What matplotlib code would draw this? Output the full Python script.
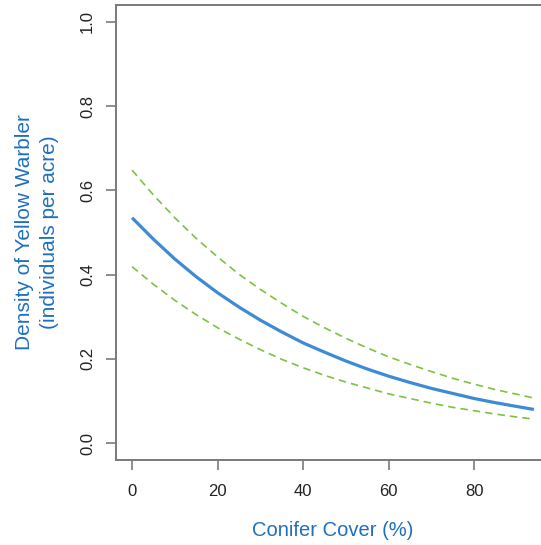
import matplotlib
matplotlib.use("Agg")
import matplotlib.pyplot as plt

conifer = [0, 5, 10, 15, 20, 25, 30, 35, 40, 45, 50, 55, 60, 65, 70, 75, 80, 85, 90, 94]
density = [0.535, 0.484, 0.437, 0.395, 0.357, 0.323, 0.292, 0.264, 0.238, 0.216,
           0.195, 0.176, 0.159, 0.144, 0.130, 0.118, 0.106, 0.096, 0.087, 0.080]
upper = [0.648, 0.589, 0.535, 0.486, 0.442, 0.401, 0.365, 0.332, 0.301, 0.274,
         0.249, 0.226, 0.205, 0.187, 0.170, 0.154, 0.140, 0.127, 0.116, 0.107]
lower = [0.419, 0.377, 0.339, 0.305, 0.274, 0.247, 0.222, 0.199, 0.179, 0.161,
         0.145, 0.131, 0.117, 0.106, 0.095, 0.085, 0.077, 0.069, 0.062, 0.057]
xticks = [0, 20, 40, 60, 80]
yticks = [0.0, 0.2, 0.4, 0.6, 0.8, 1.0]

plt.rcParams['font.family'] = ['Liberation Sans', 'DejaVu Sans']

W, H = 541, 545
fig = plt.figure(figsize=(W / 100, H / 100), dpi=100)
left, right, top, bottom = 116, 550, 5, 460
ax = fig.add_axes([left / W, 1 - bottom / H, (right - left) / W, (bottom - top) / H])

blue = '#3d8bd4'
green = '#7cc242'
axcol = '#7a7a7a'

ax.plot(conifer, density, color=blue, lw=2.3, solid_capstyle='butt')
ax.plot(conifer, upper, color=green, lw=1.2, ls=(0, (4.5, 3)))
ax.plot(conifer, lower, color=green, lw=1.2, ls=(0, (4.5, 3)))

ax.set_xlim(-3.76, 97.76)
ax.set_ylim(-0.04, 1.04)
ax.set_xticks(xticks)
ax.set_xticklabels([str(t) for t in xticks])
ax.set_yticks(yticks)
ax.set_yticklabels([f"{t:.1f}" for t in yticks], rotation=90, va='center')

for s in ax.spines.values():
    s.set_color(axcol)
    s.set_linewidth(1.4)

ax.tick_params(axis='both', colors=axcol, length=7, width=1.2, labelsize=12,
               labelcolor='#222222')
ax.tick_params(axis='x', pad=10)
ax.tick_params(axis='y', pad=8)

ax.set_xlabel('Conifer Cover (%)', color='#1f6fc0', fontsize=14.5, labelpad=16)
ax.set_ylabel('Density of Yellow Warbler\n(individuals per acre)', color='#1f6fc0',
              fontsize=15, labelpad=15, linespacing=1.4)

fig.savefig('out.png', dpi=100)
